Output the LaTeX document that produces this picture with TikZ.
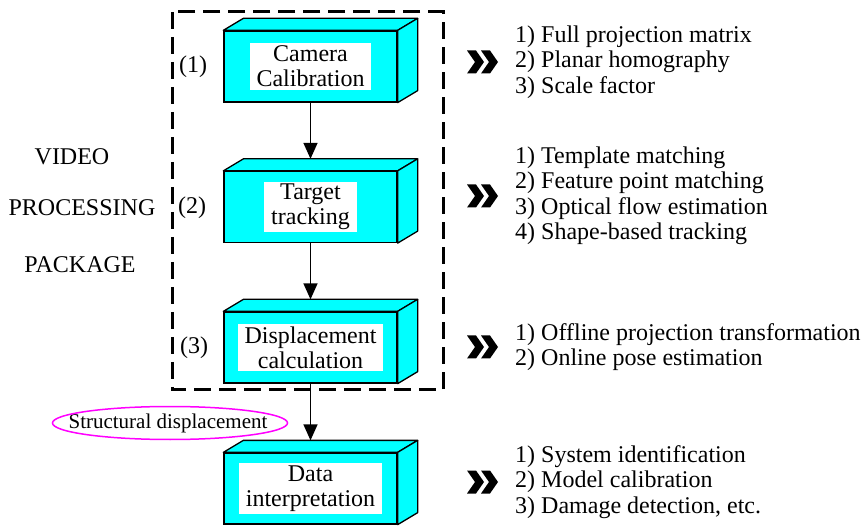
\documentclass[tikz,border=0pt]{standalone}
\usepackage{fontspec}
\setmainfont{Liberation Serif}
\usetikzlibrary{positioning,calc,arrows.meta}

\definecolor{aqua}{RGB}{0,255,255}
\definecolor{pink}{RGB}{255,0,255}

\tikzset{
  front/.style   = {shape=rectangle, draw, fill=aqua, line width=1.3pt,
                    minimum width=173pt, minimum height=71pt},
  face/.style    = {draw, fill=aqua, line width=1.3pt, line join=round},
  boxtext/.style = {fill=white, align=center, inner xsep=7pt, inner ysep=2.5pt,
                    font=\fontsize{24}{25}\selectfont},
  items/.style   = {align=left, inner sep=0pt, anchor=west,
                    font=\fontsize{24}{25.5}\selectfont},
  side/.style    = {font=\fontsize{24}{25}\selectfont},
  flow/.style    = {->, line width=1.5pt}
}

% depth faces of a block, plus the point on its back top edge
\newcommand{\prism}[1]{%
  \draw[face] (#1.north west) -- ++(20,-12) -- ($(#1.north east)+(20,-12)$)
    -- (#1.north east) -- cycle;
  \draw[face] (#1.north east) -- ++(20,-12) -- ($(#1.south east)+(20,-12)$)
    -- (#1.south east) -- cycle;
  \coordinate (#1-back) at ($(#1.north)+(0,-12)$);
}

\begin{document}
\begin{tikzpicture}[x=1pt, y=-1pt, >={Triangle[length=16pt,width=14pt]}]
\useasboundingbox (0,0) rectangle (862,526);

% package frame
\draw[line width=3pt, dash pattern=on 17pt off 8pt] (172,12) rectangle (443,390);

% blocks
\node[front] (cam) at (310.5,66.5) {};
\node[front] (trk) at (310.5,207) {};
\node[front] (dsp) at (310.5,347.5) {};
\node[front] (dat) at (310.5,488.5) {};
\prism{cam} \prism{trk} \prism{dsp} \prism{dat}
\node[boxtext] at (cam) {Camera\\Calibration};
\node[boxtext] at (trk) {Target\\tracking};
\node[boxtext] at (dsp) {Displacement\\calculation};
\node[boxtext] at (dat) {Data\\interpretation};

\draw[flow] (cam) -- (trk-back);
\draw[flow] (trk) -- (dsp-back);
\draw[flow] (dsp) -- (dat-back);

% step numbers and package name
\node[side] (s1) at (193,67) {(1)};
\node[side] (s2) at (192,208) {(2)};
\node[side] (s3) at (194,348) {(3)};
\node[side] (vid) at (72,157) {VIDEO};
\node[side] (prc) at (82,208) {PROCESSING};
\node[side] (pkg) at (80,265) {PACKAGE};

% output of the package
\node[font=\fontsize{21}{24}\selectfont] (sd) at (168,423) {Structural displacement};
\draw[pink, line width=1.5pt] (sd.center) ++(2,0) ellipse [x radius=117.5, y radius=16.5];

% method lists
\node[items] (l1) at (515,62) {1) Full projection matrix\\2) Planar homography\\3) Scale factor};
\node[items] (l2) at (515,196) {1) Template matching\\2) Feature point matching\\3) Optical flow estimation\\4) Shape-based tracking};
\node[items] (l3) at (515,347) {1) Offline projection transformation\\2) Online pose estimation};
\node[items] (l4) at (515,482) {1) System identification\\2) Model calibration\\3) Damage detection, etc.};

% double chevrons in front of each list
\foreach \l in {l1,l2,l3,l4}
  \foreach \dx in {-48,-34}
    \fill[shift={($(\l.west)+(\dx,-11.5)$)}]
      (0,0) -- (9,0) -- (17,11.5) -- (9,23) -- (0,23) -- (8,11.5) -- cycle;
\end{tikzpicture}
\end{document}
